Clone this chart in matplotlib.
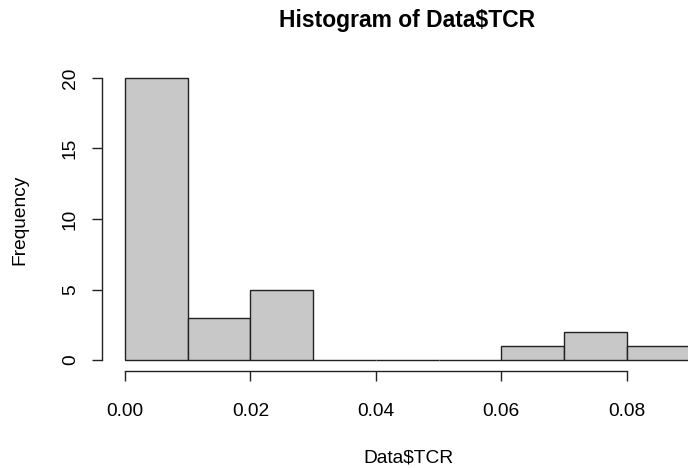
import matplotlib
matplotlib.use("Agg")
from matplotlib import pyplot as plt

# histogram of Data$TCR, counts
bin_edges = [0.00, 0.01, 0.02, 0.03, 0.04, 0.05, 0.06, 0.07, 0.08, 0.09]
counts = [20, 3, 5, 0, 0, 0, 1, 2, 1]
xticks = [0.00, 0.02, 0.04, 0.06, 0.08]
yticks = [0, 5, 10, 15, 20]

plt.rcParams['font.family'] = ['Liberation Sans', 'DejaVu Sans']
fs = 13.8

fig = plt.figure(figsize=(6.88, 4.68), dpi=100)
# plot region runs past the right edge, as in the cropped original
ax = fig.add_axes([0.1488, 0.2066, 0.886, 0.6509])

lefts = bin_edges[:-1]
widths = [b - a for a, b in zip(bin_edges[:-1], bin_edges[1:])]
ax.bar(lefts, counts, width=widths, align='edge', color='#c8c8c8',
       edgecolor='#222222', linewidth=1.0)

# R pads the ranges by 4%
xr = bin_edges[-1] - bin_edges[0]
ax.set_xlim(bin_edges[0] - 0.04 * xr, bin_edges[-1] + 0.04 * xr)
ax.set_ylim(-0.04 * max(counts), max(counts) * 1.04)

for s in ['top', 'right']:
    ax.spines[s].set_visible(False)
ax.spines['bottom'].set_bounds(xticks[0], xticks[-1])
ax.spines['left'].set_bounds(yticks[0], yticks[-1])
for s in ['bottom', 'left']:
    ax.spines[s].set_linewidth(1.0)
    ax.spines[s].set_color('#222222')

ax.set_xticks(xticks)
ax.set_xticklabels(['%.2f' % v for v in xticks])
ax.set_yticks(yticks)
ax.set_yticklabels([str(v) for v in yticks], rotation=90, va='center')
ax.tick_params(axis='x', length=7, width=1.0, pad=16, labelsize=fs, color='#222222')
ax.tick_params(axis='y', length=7, width=1.0, pad=10, labelsize=fs, color='#222222')

fig.text(407 / 688, 1 - 27 / 468, 'Histogram of Data$TCR', ha='center', va='baseline',
         fontsize=16.5, fontweight='bold')
fig.text(408 / 688, 1 - 462 / 468, 'Data$TCR', ha='center', va='baseline', fontsize=fs)
fig.text(20 / 688, 1 - 220 / 468, 'Frequency', ha='center', va='center',
         rotation=90, fontsize=fs)

fig.savefig('out.png', dpi=100)
